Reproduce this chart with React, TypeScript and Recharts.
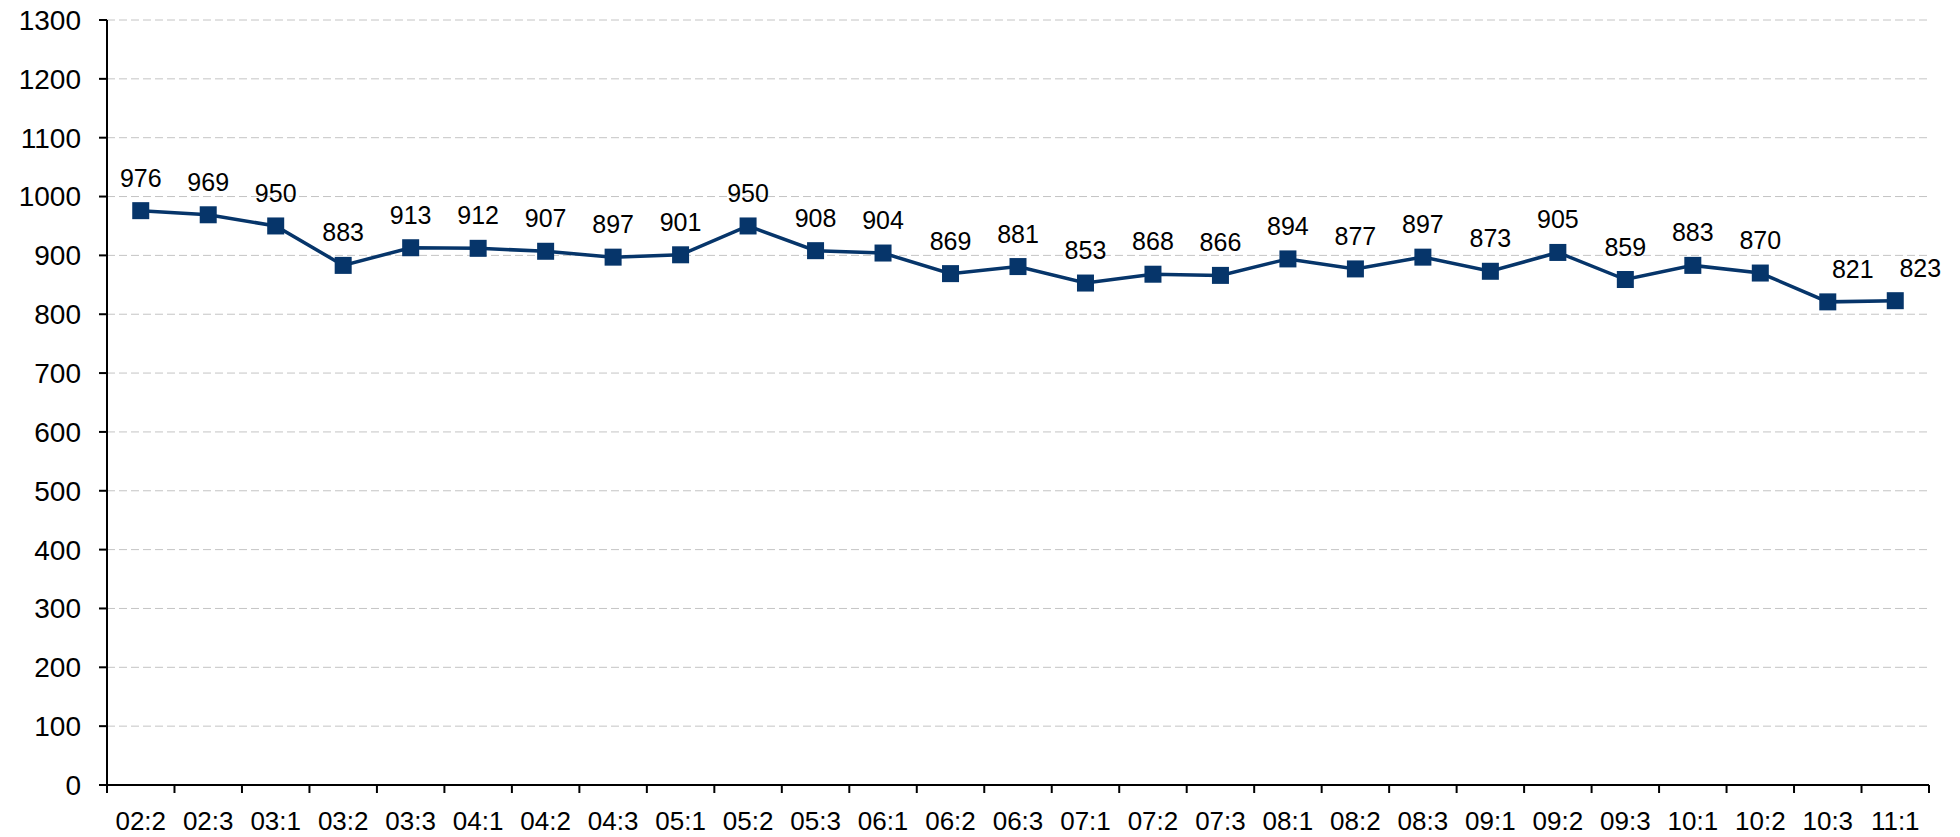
import React from "react";
import { LineChart, Line, XAxis, YAxis, CartesianGrid, LabelList } from "recharts";

const periods = [
  "02:2", "02:3", "03:1", "03:2", "03:3", "04:1", "04:2", "04:3", "05:1", "05:2",
  "05:3", "06:1", "06:2", "06:3", "07:1", "07:2", "07:3", "08:1", "08:2", "08:3",
  "09:1", "09:2", "09:3", "10:1", "10:2", "10:3", "11:1",
];
const values = [
  976, 969, 950, 883, 913, 912, 907, 897, 901, 950,
  908, 904, 869, 881, 853, 868, 866, 894, 877, 897,
  873, 905, 859, 883, 870, 821, 823,
];
const yTicks = [0, 100, 200, 300, 400, 500, 600, 700, 800, 900, 1000, 1100, 1200, 1300];

const data = periods.map((p, i) => ({ period: p, value: values[i] }));

const W = 1960;
const H = 837;
const M = { top: 20, right: 31, bottom: 0, left: 0 };
const Y_W = 107;
const X_H = 52;
const band = (W - M.left - M.right - Y_W) / periods.length;

const font = "'Liberation Sans', Arial, sans-serif";
const navy = "#06356a";

const SquareDot = (props: any) => {
  const { cx, cy } = props;
  if (cx == null || cy == null) return null;
  return <rect x={cx - 8.5} y={cy - 8.5} width={17} height={17} fill={navy} />;
};

// labels sit in the band centre, tick marks on the band edges (excel style)
const BandTick = (props: any) => {
  const { x, y, payload, index } = props;
  const half = band / 2;
  const y0 = y - 19 - 8;
  const y1 = y - 19;
  return (
    <g>
      <line x1={x - half} x2={x - half} y1={y0} y2={y1} stroke="#000" strokeWidth={2} />
      {index === periods.length - 1 && (
        <line x1={x + half} x2={x + half} y1={y0} y2={y1} stroke="#000" strokeWidth={2} />
      )}
      <text x={x} y={y} dy="0.71em" textAnchor="middle" fontSize={26} fill="#000" fontFamily={font}>
        {payload.value}
      </text>
    </g>
  );
};

// excel pushed the last two labels off the line to the right
const PointLabel = (props: any) => {
  const { x, y, value, index } = props;
  const dx = index >= periods.length - 2 ? 25 : 0;
  return (
    <text x={x + dx} y={y - 24} textAnchor="middle" fontSize={25} fill="#000" fontFamily={font}>
      {value}
    </text>
  );
};

export default function App() {
  return (
    <div style={{ width: W, height: H, background: "#fff" }}>
      <style>{"body{margin:0}"}</style>
      <LineChart width={W} height={H} data={data} margin={M}>
        <CartesianGrid stroke="#c4c4c4" strokeDasharray="8 4" vertical={false} />
        <XAxis
          dataKey="period"
          scale="band"
          height={X_H}
          tick={<BandTick />}
          tickSize={8}
          tickMargin={19}
          axisLine={{ stroke: "#000", strokeWidth: 2 }}
          tickLine={false}
          interval={0}
        />
        <YAxis
          width={Y_W}
          domain={[0, 1300]}
          ticks={yTicks}
          tick={{ fontSize: 28, fill: "#000", fontFamily: font }}
          tickSize={8}
          tickMargin={18}
          axisLine={{ stroke: "#000", strokeWidth: 2 }}
          tickLine={{ stroke: "#000", strokeWidth: 2 }}
          interval={0}
        />
        <Line
          dataKey="value"
          stroke={navy}
          strokeWidth={3.5}
          dot={<SquareDot />}
          activeDot={false}
          isAnimationActive={false}
        >
          <LabelList dataKey="value" content={<PointLabel />} />
        </Line>
      </LineChart>
    </div>
  );
}
